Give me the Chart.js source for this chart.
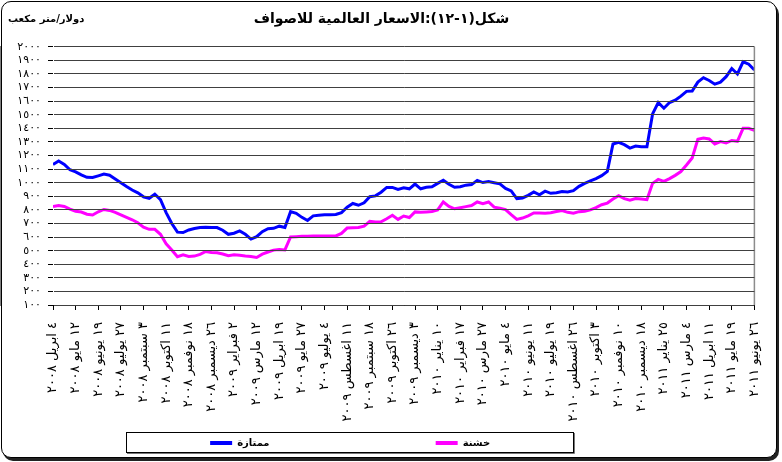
<!DOCTYPE html>
<html>
<head>
<meta charset="utf-8">
<script src="https://cdn.jsdelivr.net/npm/chart.js@4.4.1/dist/chart.umd.min.js"></script>
<style>
  html, body { margin: 0; padding: 0; background: #fff; }
  #wrap { position: relative; width: 782px; height: 462px; }
  #frame {
    position: absolute; left: 1px; top: 1px; width: 776px; height: 457px;
    box-sizing: border-box; border: 1px solid #000; border-radius: 10px;
    box-shadow: 2px 3px 0 #222; background: #fff;
  }
  #chart { position: absolute; left: 0; top: 0; }
</style>
</head>
<body>
<div id="wrap"><div id="frame"></div><canvas id="chart" width="782" height="462"></canvas></div>
<script>
// الاسعار العالمية للاصواف - دولار/متر مكعب
const titleText = 'شكل(١-١٢):الاسعار العالمية للاصواف';
const unitText = 'دولار/متر مكعب';
const seriesNames = ['ممتازة', 'خشنة'];

// تواريخ المحور الأفقي (كل ٣٨ يوماً)
const dateLabels = [
  '٤ ابريل ٢٠٠٨', '١٢ مايو ٢٠٠٨', '١٩ يونيو ٢٠٠٨', '٢٧ يوليو ٢٠٠٨',
  '٣ سبتمبر ٢٠٠٨', '١١ اكتوبر ٢٠٠٨', '١٨ نوفمبر ٢٠٠٨', '٢٦ ديسمبر ٢٠٠٨',
  '٢ فبراير ٢٠٠٩', '١٢ مارس ٢٠٠٩', '١٩ ابريل ٢٠٠٩', '٢٧ مايو ٢٠٠٩',
  '٤ يوليو ٢٠٠٩', '١١ اغسطس ٢٠٠٩', '١٨ سبتمبر ٢٠٠٩', '٢٦ اكتوبر ٢٠٠٩',
  '٣ ديسمبر ٢٠٠٩', '١٠ يناير ٢٠١٠', '١٧ فبراير ٢٠١٠', '٢٧ مارس ٢٠١٠',
  '٤ مايو ٢٠١٠', '١١ يونيو ٢٠١٠', '١٩ يوليو ٢٠١٠', '٢٦ اغسطس ٢٠١٠',
  '٣ اكتوبر ٢٠١٠', '١٠ نوفمبر ٢٠١٠', '١٨ ديسمبر ٢٠١٠', '٢٥ يناير ٢٠١١',
  '٤ مارس ٢٠١١', '١١ ابريل ٢٠١١', '١٩ مايو ٢٠١١', '٢٦ يونيو ٢٠١١'
];
const stepsPerLabel = 4; // 4 readings between two date labels

// ممتازة (blue)
const premiumValues = [
  1134, 1160, 1135, 1095, 1080, 1058, 1040, 1038, 1050, 1063,
  1055, 1027, 1000, 972, 946, 925, 896, 885, 915, 875,
  780, 700, 636, 633, 652, 663, 670, 673, 670, 670,
  650, 620, 628, 645, 620, 585, 603, 640, 662, 664,
  680, 670, 787, 775, 745, 722, 756, 760, 764, 764,
  766, 780, 820, 847, 834, 852, 897, 903, 930, 965,
  965, 950, 962, 955, 990, 955, 966, 970, 995, 1018,
  988, 966, 970, 982, 986, 1017, 1001, 1008, 1000, 992,
  958, 940, 883, 888, 907, 932, 911, 938, 922, 926,
  935, 932, 941, 973, 995, 1013, 1030, 1052, 1083, 1285,
  1297, 1280, 1255, 1270, 1265, 1265, 1506, 1590, 1548, 1590,
  1607, 1637, 1672, 1675, 1740, 1773, 1752, 1725, 1740, 1780,
  1840, 1800, 1890, 1872, 1830
];

// خشنة (magenta)
const coarseValues = [
  825, 832, 825, 805, 790, 784, 768, 762, 786, 803,
  796, 782, 763, 745, 727, 705, 673, 657, 657, 620,
  550, 505, 455, 470, 457, 460, 472, 494, 486, 484,
  475, 462, 469, 466, 460, 457, 450, 474, 490, 504,
  509, 505, 601, 603, 605, 606, 607, 608, 608, 608,
  608, 627, 666, 668, 670, 680, 716, 710, 712, 735,
  760, 730, 755, 744, 785, 782, 785, 788, 800, 858,
  826, 808, 816, 824, 832, 858, 846, 858, 820, 812,
  802, 765, 730, 740, 756, 777, 777, 776, 779, 788,
  795, 782, 776, 787, 790, 800, 816, 838, 850, 880,
  905, 883, 872, 884, 880, 875, 995, 1024, 1010, 1030,
  1054, 1082, 1130, 1182, 1320, 1329, 1322, 1285, 1302, 1292,
  1311, 1305, 1400, 1400, 1385
];

const yMin = 100, yMax = 2000, yStep = 100;
const FONT = '"DejaVu Sans", sans-serif';

const arabicDigits = '٠١٢٣٤٥٦٧٨٩';
function toArabic(n) {
  return String(n).replace(/[0-9]/g, d => arabicDigits[d]);
}

// widen legend texts with spaces so the two items sit like the original
const legendTextWidths = [196, 91];
function padText(text, width) {
  const c = document.createElement('canvas').getContext('2d');
  c.font = 'bold 10px ' + FONT;
  let s = text;
  while (c.measureText(s + ' ').width <= width) s += ' ';
  return s;
}

const toPoints = arr => arr.map((v, i) => ({ x: i, y: v }));

// plot right border, unit text, legend box
const decorPlugin = {
  id: 'decor',
  afterDatasetsDraw(chart) {
    const ctx = chart.ctx;
    const xs = chart.scales.x, ys = chart.scales.y;
    ctx.save();
    ctx.globalAlpha = 1;
    ctx.setLineDash([]);
    ctx.strokeStyle = '#8c8c8c';
    ctx.lineWidth = 1.5;
    ctx.beginPath();
    ctx.moveTo(xs.right, ys.top);
    ctx.lineTo(xs.right, ys.bottom);
    ctx.stroke();
    ctx.restore();
  },
  afterDraw(chart) {
    const ctx = chart.ctx;
    ctx.save();
    ctx.fillStyle = '#000';
    ctx.font = 'bold 10px ' + FONT;
    ctx.textAlign = 'left';
    ctx.textBaseline = 'middle';
    ctx.fillText(unitText, 8, 19);

    // legend box
    ctx.strokeStyle = '#777';
    ctx.lineWidth = 1;
    ctx.beginPath();
    ctx.moveTo(127, 453.5); ctx.lineTo(574.5, 453.5); ctx.lineTo(574.5, 433);
    ctx.stroke();
    ctx.strokeStyle = '#000';
    ctx.strokeRect(126.5, 432.5, 447, 20);
    ctx.restore();
  }
};

const chart = new Chart(document.getElementById('chart'), {
  type: 'line',
  data: {
    datasets: [
      {
        label: seriesNames[0],
        data: toPoints(premiumValues),
        borderColor: '#0000ff',
        backgroundColor: '#0000ff',
        borderWidth: 3,
        pointRadius: 0,
        tension: 0
      },
      {
        label: seriesNames[1],
        data: toPoints(coarseValues),
        borderColor: '#ff00ff',
        backgroundColor: '#ff00ff',
        borderWidth: 3,
        pointRadius: 0,
        tension: 0
      }
    ]
  },
  options: {
    responsive: false,
    animation: false,
    layout: { padding: { left: 8, right: 27, top: 4, bottom: 4 } },
    plugins: {
      title: {
        display: true,
        text: titleText,
        color: '#000',
        font: { family: FONT, size: 14, weight: 'bold' },
        padding: { top: 7, bottom: 19 }
      },
      legend: {
        position: 'bottom',
        labels: {
          color: '#000',
          font: { family: FONT, size: 10, weight: 'bold' },
          boxWidth: 22,
          boxHeight: 4,
          padding: 6,
          generateLabels: chart => chart.data.datasets.map((ds, i) => ({
            text: padText(ds.label, legendTextWidths[i]),
            fillStyle: ds.borderColor,
            strokeStyle: ds.borderColor,
            lineWidth: 0,
            hidden: false,
            datasetIndex: i
          }))
        }
      },
      tooltip: { enabled: false }
    },
    scales: {
      x: {
        type: 'linear',
        min: 0,
        max: (dateLabels.length - 1) * stepsPerLabel,
        afterFit: scale => { scale.height = 127; },
        border: { color: '#000', width: 1 },
        grid: { drawOnChartArea: false, tickLength: 5, color: '#000' },
        ticks: {
          stepSize: stepsPerLabel,
          autoSkip: false,
          minRotation: 90,
          maxRotation: 90,
          padding: 12,
          color: '#000',
          font: { family: FONT, size: 13 },
          callback: v => dateLabels[v / stepsPerLabel]
        }
      },
      y: {
        min: yMin,
        max: yMax,
        afterFit: scale => { scale.width = 45; },
        border: { color: '#000', width: 1 },
        grid: { color: '#404040', tickColor: '#000', tickLength: 5, z: 1 },
        ticks: {
          stepSize: yStep,
          autoSkip: false,
          padding: 7,
          color: '#000',
          font: { family: FONT, size: 11 },
          callback: v => toArabic(v)
        }
      }
    }
  },
  plugins: [decorPlugin]
});
</script>
</body>
</html>
